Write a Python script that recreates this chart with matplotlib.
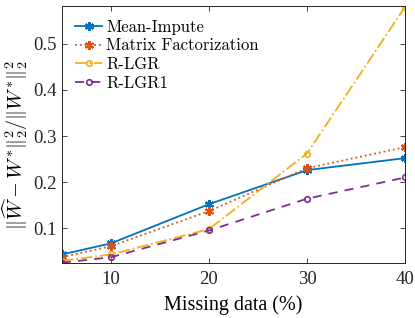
import numpy as np
from matplotlib import pyplot as plt

plt.rcParams['mathtext.fontset'] = 'cm'
plt.rcParams['axes.formatter.use_mathtext'] = True

missing = [5, 10, 20, 30, 40]
mean_impute = [0.043, 0.067, 0.152, 0.226, 0.252]
matrix_fact = [0.037, 0.061, 0.137, 0.230, 0.276]
r_lgr = [0.029, 0.043, 0.098, 0.262, 0.580]
r_lgr1 = [0.025, 0.037, 0.095, 0.164, 0.210]

xticks = [10, 20, 30, 40]
yticks = [0.1, 0.2, 0.3, 0.4, 0.5]

fig = plt.figure(figsize=(4.15, 3.18), dpi=100)
ax = fig.add_axes([0.149, 0.173, 0.827, 0.808])

star = (6, 2, 0)
ax.plot(missing, mean_impute, '-', color='#0072BD', lw=1.3, marker=star, ms=6.5, mew=1.5, label='Mean-Impute')
ax.plot(missing, matrix_fact, ':', color='#D95319', lw=1.3, marker=star, ms=6.5, mew=1.5, label='Matrix Factorization')
ax.plot(missing, r_lgr, '-.', color='#EDB120', lw=1.3, marker='o', ms=4, mfc='none', mew=1.2, label='R-LGR')
ax.plot(missing, r_lgr1, '--', color='#7E2F8E', lw=1.3, marker='o', ms=4, mfc='none', mew=1.2, label='R-LGR1',
        dashes=(5, 4))

ax.set_xlim(5, 40)
ax.set_ylim(0.0245, 0.582)
ax.set_xticks(xticks)
ax.set_yticks(yticks)
ax.set_xticklabels([str(t) for t in xticks], family='Liberation Serif', fontsize=13.5)
ax.set_yticklabels(['%.1f' % t for t in yticks], family='Liberation Serif', fontsize=13.5)
ax.tick_params(direction='in', length=3.5, width=0.6, top=True, right=True, colors='#262626')
ax.tick_params(axis='x', pad=6)
ax.tick_params(axis='y', pad=4)
for s in ax.spines.values():
    s.set_linewidth(0.7)
    s.set_color('#262626')

ax.set_xlabel('Missing data (%)', family='Liberation Serif', fontsize=14.5, labelpad=5)
ax.set_ylabel(r'$\|\widehat{W} - W^{*}\|_2^2/\|W^{*}\|_2^2$', fontsize=14.5)
ax.yaxis.set_label_coords(-0.092, 0.46)

leg = ax.legend(loc='upper left', frameon=False, handlelength=1.6, handletextpad=0.25,
                labelspacing=0.2, borderaxespad=0.4, prop={'family': 'cmr10', 'size': 12})

fig.savefig('out.png', dpi=100)
